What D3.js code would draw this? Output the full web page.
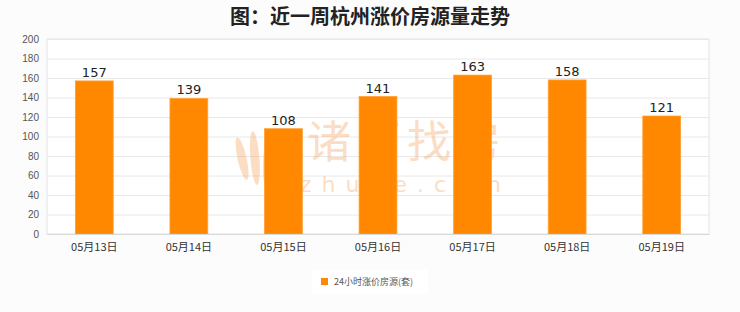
<!DOCTYPE html>
<html>
<head>
<meta charset="utf-8">
<script src="https://cdn.jsdelivr.net/npm/d3@7"></script>
<style>
  html, body { margin: 0; padding: 0; background: #fcfcfc; }
  svg { display: block; }
</style>
</head>
<body>
<svg id="chart" width="740" height="312"></svg>
<script>
const title = "图：近一周杭州涨价房源量走势";
const categories = ["05月13日", "05月14日", "05月15日", "05月16日", "05月17日", "05月18日", "05月19日"];
const values = [157, 139, 108, 141, 163, 158, 121];
const seriesName = "24小时涨价房源(套)";
const yTicks = [0, 20, 40, 60, 80, 100, 120, 140, 160, 180, 200];

const W = 740, H = 312;
const margin = { left: 47, right: 31, top: 39, bottom: 78 };
const svg = d3.select("#chart");

svg.append("rect").attr("width", W).attr("height", H).attr("fill", "#fcfcfc");

const x = d3.scaleBand().domain(categories)
  .range([margin.left, W - margin.right]).paddingInner(0.6).paddingOuter(0.3);
const y = d3.scaleLinear().domain([0, 200]).range([H - margin.bottom, margin.top]);

// plot area
svg.append("rect")
  .attr("x", margin.left).attr("y", margin.top)
  .attr("width", W - margin.left - margin.right)
  .attr("height", H - margin.top - margin.bottom)
  .attr("fill", "#ffffff").attr("stroke", "#e3e3e3");

// gridlines
svg.append("g").selectAll("line").data(yTicks).join("line")
  .attr("x1", margin.left).attr("x2", W - margin.right)
  .attr("y1", d => y(d) + 0.5).attr("y2", d => y(d) + 0.5)
  .attr("stroke", "#e8e8e8").attr("stroke-width", 1);

// watermark
const wm = svg.append("g").attr("opacity", 0.35);
const logo = wm.append("g").attr("fill", "#f4a15a");
[-14, -5, 4, 13].forEach(dx => {
  logo.append("ellipse")
    .attr("cx", 262 + dx).attr("cy", 158)
    .attr("rx", 4.5).attr("ry", 30 - Math.abs(dx) * 0.6)
    .attr("transform", `rotate(${dx * 0.9}, ${262 + dx}, 185)`);
});
wm.append("text").attr("x", 307).attr("y", 158)
  .attr("font-family", "Noto Sans CJK SC").attr("font-size", 44)
  .attr("fill", "#f4a15a").attr("letter-spacing", 6)
  .text("诸葛找房");
wm.append("text").attr("x", 300).attr("y", 192)
  .attr("font-family", "DejaVu Sans").attr("font-size", 22)
  .attr("fill", "#f4a15a").attr("letter-spacing", 10)
  .text("zhuge.com");

// bars
svg.append("g").selectAll("rect").data(values).join("rect")
  .attr("x", (d, i) => x(categories[i]))
  .attr("width", x.bandwidth())
  .attr("y", d => y(d))
  .attr("height", d => y(0) - y(d))
  .attr("fill", "#ff8800")
  .attr("stroke", "#ffa033").attr("stroke-width", 0.8);

// value labels
svg.append("g").selectAll("text").data(values).join("text")
  .attr("x", (d, i) => x(categories[i]) + x.bandwidth() / 2)
  .attr("y", d => y(d) - 4)
  .attr("text-anchor", "middle")
  .attr("font-family", "DejaVu Sans").attr("font-size", 13)
  .attr("fill", "#222")
  .text(d => d);

// y axis
const yAxis = d3.axisLeft(y).tickValues(yTicks).tickSize(0).tickPadding(8);
const gy = svg.append("g").attr("transform", `translate(${margin.left},0)`).call(yAxis);
gy.select(".domain").remove();
gy.selectAll("text").attr("font-family", "Liberation Sans").attr("font-size", 10).attr("fill", "#555");

// x axis
const xAxis = d3.axisBottom(x).tickSize(0).tickPadding(9);
const gx = svg.append("g").attr("transform", `translate(0,${H - margin.bottom})`).call(xAxis);
gx.select(".domain").attr("stroke", "#d8d8d8");
gx.selectAll("text").attr("font-family", "Noto Sans CJK SC").attr("font-size", 11).attr("fill", "#333");

// title
svg.append("text").attr("x", 370).attr("y", 24)
  .attr("text-anchor", "middle")
  .attr("font-family", "Noto Sans CJK SC").attr("font-weight", "bold")
  .attr("font-size", 20).attr("fill", "#222")
  .text(title);

// legend
const lg = svg.append("g");
lg.append("rect").attr("x", 312).attr("y", 270).attr("width", 116).attr("height", 24).attr("fill", "#ffffff");
lg.append("rect").attr("x", 321).attr("y", 278).attr("width", 7).attr("height", 7).attr("fill", "#ff8800");
lg.append("text").attr("x", 334).attr("y", 285)
  .attr("font-family", "Noto Sans CJK SC").attr("font-size", 9).attr("fill", "#555")
  .text(seriesName);
</script>
</body>
</html>
